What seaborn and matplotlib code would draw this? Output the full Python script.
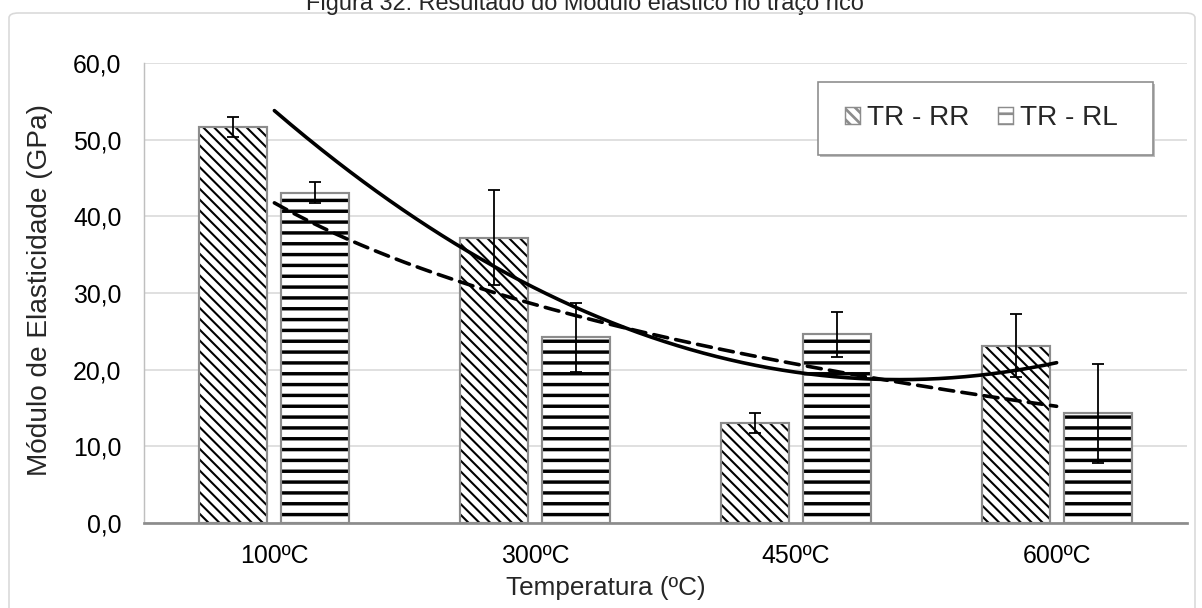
import numpy as np
import pandas as pd
import matplotlib
matplotlib.use("Agg")
import matplotlib.pyplot as plt
import seaborn as sns
from matplotlib.patches import Rectangle, FancyBboxPatch, Patch

# ---- data ----
temperaturas = ["100ºC", "300ºC", "450ºC", "600ºC"]
series = ["TR - RR", "TR - RL"]
rr_vals = [51.6, 37.2, 13.1, 23.1]
rr_err = [1.3, 6.2, 1.3, 4.1]
rl_vals = [43.1, 24.2, 24.6, 14.3]
rl_err = [1.4, 4.5, 2.9, 6.5]
y_ticks = [0, 10, 20, 30, 40, 50, 60]
titulo = "Figura 32: Resultado do Módulo elástico no traço rico"
x_label = "Temperatura (ºC)"
y_label = "Módulo de Elasticidade (GPa)"

DPI = 130
sns.set_theme(style="white")
plt.rcParams["font.family"] = ["Liberation Sans", "DejaVu Sans"]

df = pd.DataFrame({
    "Temperatura": temperaturas * 2,
    "Serie": [series[0]] * len(temperaturas) + [series[1]] * len(temperaturas),
    "E": rr_vals + rl_vals,
})

fig = plt.figure(figsize=(1202 / DPI, 608 / DPI), dpi=DPI)
ax = fig.add_axes([144 / 1202, 1 - 523 / 608, (1187 - 144) / 1202, (523 - 63) / 608])

sns.barplot(data=df, x="Temperatura", y="E", hue="Serie", order=temperaturas,
            hue_order=series, palette=["white", "white"], width=0.628, gap=0.17,
            edgecolor="black", linewidth=0, errorbar=None, saturation=1,
            legend=False, ax=ax, zorder=2)

hatches = ["\\\\\\\\", "--"]
hatch_lw = [1.15, 1.9]
for cont, h, hl in zip(ax.containers, hatches, hatch_lw):
    for p in cont:
        p.set_hatch(h)
        try:
            p.set_hatch_linewidth(hl)
        except Exception:
            pass
        ax.add_patch(Rectangle(p.get_xy(), p.get_width(), p.get_height(),
                               fill=False, edgecolor="#8c8c8c", lw=1.2, zorder=3))
plt.rcParams["hatch.linewidth"] = 1.5

# error bars
for cont, vals, errs in zip(ax.containers, [rr_vals, rl_vals], [rr_err, rl_err]):
    xs = [p.get_x() + p.get_width() / 2 for p in cont]
    ax.errorbar(xs, vals, yerr=errs, fmt="none", ecolor="black", elinewidth=1.0,
                capsize=3.4, capthick=1.0, zorder=4)

# trendlines (Excel-style: x = 1..n)
t = np.arange(1, len(temperaturas) + 1)
xs = np.linspace(1, len(temperaturas), 300)
coef = np.polyfit(t, rr_vals, 2)
ax.plot(xs - 1, np.polyval(coef, xs), color="black", lw=2.0, zorder=5,
        solid_capstyle="round")
b, a = np.polyfit(np.log(t), rl_vals, 1)
ax.plot(xs - 1, a + b * np.log(xs), color="black", lw=2.0, zorder=5,
        linestyle=(0, (3.9, 2.3)), dash_capstyle="round")

# axes styling
ax.set_xlim(-0.5, len(temperaturas) - 0.5)
ax.set_ylim(0, 60)
ax.set_yticks(y_ticks)
ax.set_yticklabels([f"{v:.1f}".replace(".", ",") for v in y_ticks])
ax.yaxis.grid(True, color="#d9d9d9", lw=0.9)
ax.xaxis.grid(False)
ax.set_axisbelow(True)
ax.tick_params(axis="both", length=0, labelsize=13.8, colors="#000000")
ax.tick_params(axis="y", pad=12.5)
ax.tick_params(axis="x", pad=11.5)
for s in ["top", "right"]:
    ax.spines[s].set_visible(False)
ax.spines["left"].set_color("#bfbfbf")
ax.spines["left"].set_linewidth(0.8)
ax.spines["bottom"].set_color("#8c8c8c")
ax.spines["bottom"].set_linewidth(1.5)
ax.spines["bottom"].set_zorder(6)
ax.set_xlabel("")
ax.set_ylabel("")
ax.patch.set_alpha(0)

# legend box
lx0, ly0, lw_, lh_ = (818 - 144) / 1043, (523 - 155) / 460, (1153 - 818) / 1043, (155 - 82) / 460
ax.add_patch(Rectangle((lx0 + 0.002, ly0 - 0.005), lw_, lh_, transform=ax.transAxes,
                       facecolor="#bdbdbd", edgecolor="none", zorder=7))
ax.add_patch(Rectangle((lx0, ly0), lw_, lh_, transform=ax.transAxes,
                       facecolor="white", edgecolor="#8c8c8c", lw=0.9, zorder=7.5))
handles = [Patch(facecolor="white", edgecolor="#8c8c8c", hatch=h, lw=0.8) for h in hatches]
leg = ax.legend(handles, series, loc="center", bbox_to_anchor=(lx0 + lw_ / 2 - 0.004, ly0 + lh_ / 2),
                ncol=2, frameon=False, fontsize=15.5, handlelength=0.55, handleheight=0.55,
                handletextpad=0.25, columnspacing=1.0)
leg.set_zorder(8)

# texts
fig.text(40 / 1202, 1 - 290 / 608, y_label, rotation=90, ha="center", va="center", fontsize=15.5)
fig.text(606 / 1202, 1 - 588 / 608, x_label, ha="center", va="center", fontsize=14.5)
fig.text(585 / 1202, 1 - 10 / 608, titulo, ha="center", va="baseline", fontsize=13)

# outer chart frame
frame = FancyBboxPatch((9 / 1202, -0.05), (1195 - 9) / 1202, (1 - 13 / 608) + 0.05,
                       boxstyle="round,pad=0,rounding_size=0.008", transform=fig.transFigure,
                       fill=False, edgecolor="#d9d9d9", lw=0.9)
fig.add_artist(frame)

fig.savefig("out.png", dpi=DPI)
